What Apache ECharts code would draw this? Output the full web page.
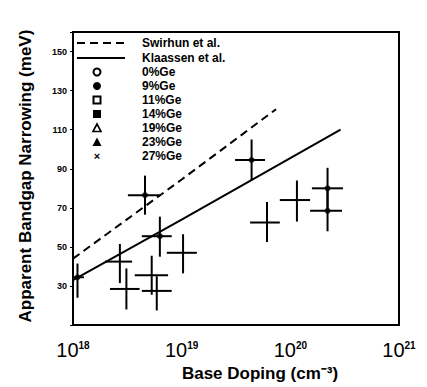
<!DOCTYPE html>
<html><head><meta charset="utf-8">
<script src="https://cdn.jsdelivr.net/npm/echarts@6/dist/echarts.min.js"></script>
<style>html,body{margin:0;padding:0;background:#fff}#c{width:427px;height:387px}</style>
</head><body><div id="c"></div>
<script>
// ---- data ----
const dopingCenter = [1.1e18, 2.7e18, 3.1e18, 4.6e18, 6.3e18, 5.3e18, 5.9e18, 1.03e19, 4.4e19, 6.1e19, 1.15e20, 2.2e20, 2.2e20];
const bgnCenter    = [34.5, 42.5, 28.5, 76.5, 55.5, 35.5, 27.5, 47, 94.5, 62.5, 74, 80, 68.5];
const dopingLow    = [1.0e18, 1.97e18, 2.19e18, 3.2e18, 4.3e18, 3.7e18, 4.3e18, 7.3e18, 3.1e19, 4.26e19, 8.0e19, 1.58e20, 1.52e20];
const dopingHigh   = [1.26e18, 3.5e18, 4.1e18, 6.3e18, 8.1e18, 7.5e18, 8.1e18, 1.38e19, 5.85e19, 8.0e19, 1.52e20, 3.05e20, 2.99e20];
const bgnLow       = [24, 31.5, 18, 66.5, 45, 25.5, 17.5, 36.5, 84, 52.5, 63, 69, 58];
const bgnHigh      = [41.5, 51.5, 39, 86.5, 65.5, 45.5, 35, 56.5, 105, 73, 84, 90.5, 80];
const hasDot       = [true, false, false, true, true, false, false, false, true, false, false, true, true];

const swirhunDoping = [1e18, 1e19, 7.4e19];
const swirhunBGN    = [44, 84.5, 120.5];
const klaassenDoping = [1e18, 1e19, 2.9e20];
const klaassenBGN    = [33, 64, 110];

const yTickLabels = [30, 50, 70, 90, 110, 130, 150];
const xTickExponents = ['18', '19', '20', '21'];

const legendLines = ['Swirhun et al.', 'Klaassen et al.'];
const legendGe = ['0%Ge', '9%Ge', '11%Ge', '14%Ge', '19%Ge', '23%Ge', '27%Ge'];

// ---- chart ----
const chart = echarts.init(document.getElementById('c'), null, {renderer: 'svg'});
const FONT = 'Liberation Sans';
const LFONT = 'bold 12px "Liberation Sans"';

const errData = dopingCenter.map((x, i) => [x, bgnCenter[i], dopingLow[i], dopingHigh[i], bgnLow[i], bgnHigh[i]]);
const dotData = dopingCenter.map((x, i) => [x, bgnCenter[i], hasDot[i]]).filter(d => d[2]).map(d => [d[0], d[1]]);

// legend graphics
const g = [];
const lx0 = 77, lx1 = 125, tx = 142;
g.push({type:'line', shape:{x1:lx0, y1:43, x2:lx1, y2:43}, style:{stroke:'#000', lineWidth:2, lineDash:[8,5]}});
g.push({type:'line', shape:{x1:lx0, y1:58, x2:lx1, y2:58}, style:{stroke:'#000', lineWidth:2}});
legendLines.forEach((t, i) => g.push({type:'text', x:tx, y:43 + i*15, style:{text:t, font:LFONT, fill:'#000', verticalAlign:'middle'}}));
const rowY = [72, 86, 100, 114, 128, 142, 156];
const sx = 97;
legendGe.forEach((t, i) => g.push({type:'text', x:tx, y:rowY[i], style:{text:t, font:LFONT, fill:'#000', verticalAlign:'middle'}}));
g.push({type:'circle', shape:{cx:sx, cy:rowY[0], r:3.5}, style:{fill:'#fff', stroke:'#000', lineWidth:2}});
g.push({type:'circle', shape:{cx:sx, cy:rowY[1], r:4}, style:{fill:'#000'}});
g.push({type:'rect', shape:{x:sx-3.5, y:rowY[2]-3.5, width:7, height:7}, style:{fill:'#fff', stroke:'#000', lineWidth:2}});
g.push({type:'rect', shape:{x:sx-4, y:rowY[3]-4, width:8, height:8}, style:{fill:'#000'}});
g.push({type:'polygon', shape:{points:[[sx, rowY[4]-4],[sx-4, rowY[4]+3.5],[sx+4, rowY[4]+3.5]]}, style:{fill:'#fff', stroke:'#000', lineWidth:1.6}});
g.push({type:'polygon', shape:{points:[[sx, rowY[5]-4.5],[sx-4.5, rowY[5]+4],[sx+4.5, rowY[5]+4]]}, style:{fill:'#000'}});
g.push({type:'text', x:sx, y:rowY[6], style:{text:'×', font:'bold 11px "Liberation Sans"', fill:'#000', align:'center', verticalAlign:'middle'}});

const option = {
  backgroundColor: '#fff',
  animation: false,
  grid: {left: 73, top: 32, right: 28, bottom: 54, show: true, borderColor: '#000', borderWidth: 2, backgroundColor: 'transparent'},
  xAxis: {
    type: 'log', logBase: 10, min: 1e18, max: 1e21,
    name: 'Base Doping (cm⁻³)', nameLocation: 'middle', nameGap: 37,
    nameTextStyle: {fontFamily: FONT, fontWeight: 'bold', fontSize: 17, color: '#000', padding: [0, 0, 0, 48]},
    axisLine: {show: true, lineStyle: {color: '#000', width: 2}},
    axisTick: {show: false},
    splitLine: {show: false},
    axisLabel: {
      margin: 15, color: '#000',
      formatter: v => '{b|10}{s|' + xTickExponents[Math.round(Math.log10(v)) - 18] + '}',
      rich: {
        b: {fontFamily: FONT, fontSize: 20, color: '#000', lineHeight: 20, verticalAlign: 'bottom'},
        s: {fontFamily: FONT, fontSize: 10, fontWeight: 'bold', color: '#000', lineHeight: 20, verticalAlign: 'top', padding: [0, 0, 9, 0]}
      }
    }
  },
  yAxis: {
    type: 'value', min: 10, max: 160, interval: 20,
    name: 'Apparent Bandgap Narrowing (meV)', nameLocation: 'middle', nameGap: 39,
    nameTextStyle: {fontFamily: FONT, fontWeight: 'bold', fontSize: 17, color: '#000', padding: [0, 0, 0, 5]},
    axisLine: {show: true, lineStyle: {color: '#000', width: 2}},
    axisTick: {show: true, length: 3, lineStyle: {color: '#000', width: 1}},
    splitLine: {show: false},
    axisLabel: {
      margin: 6, color: '#000', fontFamily: FONT, fontWeight: 'bold', fontSize: 9,
      formatter: v => yTickLabels.indexOf(v) >= 0 ? String(v) : ''
    }
  },
  graphic: g,
  series: [
    {type: 'line', data: swirhunDoping.map((x, i) => [x, swirhunBGN[i]]), symbol: 'none', lineStyle: {color: '#000', width: 2, type: [8, 5]}, z: 3},
    {type: 'line', data: klaassenDoping.map((x, i) => [x, klaassenBGN[i]]), symbol: 'none', lineStyle: {color: '#000', width: 2}, z: 3},
    {
      type: 'custom', data: errData, z: 4,
      renderItem: (params, api) => {
        const y = api.value(1);
        const a = api.coord([api.value(2), y]);
        const b = api.coord([api.value(3), y]);
        const c = api.coord([api.value(0), api.value(4)]);
        const d = api.coord([api.value(0), api.value(5)]);
        const st = {stroke: '#000', lineWidth: 2};
        return {type: 'group', children: [
          {type: 'line', shape: {x1: a[0], y1: a[1], x2: b[0], y2: b[1]}, style: st},
          {type: 'line', shape: {x1: c[0], y1: c[1], x2: d[0], y2: d[1]}, style: st}
        ]};
      }
    },
    {type: 'scatter', data: dotData, symbol: 'circle', symbolSize: 6, itemStyle: {color: '#000'}, z: 5}
  ]
};
chart.setOption(option);
</script>
</body></html>
